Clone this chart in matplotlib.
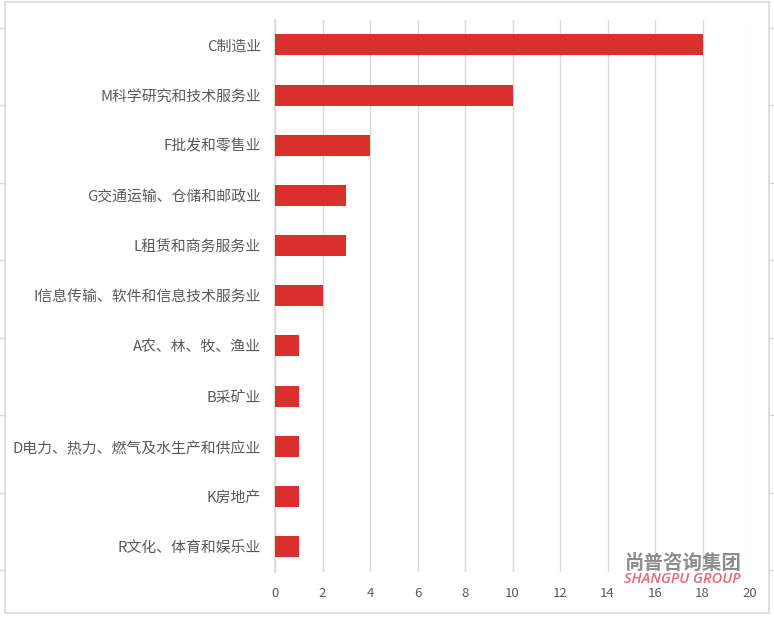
import matplotlib
matplotlib.use("Agg")
import matplotlib.pyplot as plt
from matplotlib.patches import Rectangle

plt.rcParams['font.family'] = ['Noto Sans CJK SC', 'DejaVu Sans']

# 行业分布（从上到下）
categories = ['C制造业', 'M科学研究和技术服务业', 'F批发和零售业', 'G交通运输、仓储和邮政业',
              'L租赁和商务服务业', 'I信息传输、软件和信息技术服务业', 'A农、林、牧、渔业',
              'B采矿业', 'D电力、热力、燃气及水生产和供应业', 'K房地产', 'R文化、体育和娱乐业']
counts = [18, 10, 4, 3, 3, 2, 1, 1, 1, 1, 1]
xticks = [0, 2, 4, 6, 8, 10, 12, 14, 16, 18, 20]

bar_color = '#D9302E'
text_color = '#595959'
grid_color = '#D9D9D9'

fig = plt.figure(figsize=(7.74, 6.2), dpi=100)
fig.patch.set_facecolor('white')

# spreadsheet-ish frame around the chart
for y in [0.955, 0.83, 0.705, 0.58, 0.455, 0.33, 0.205, 0.08]:
    fig.add_artist(plt.Line2D([0, 0.006], [y, y], color=grid_color, lw=1))
    fig.add_artist(plt.Line2D([0.994, 1], [y, y], color=grid_color, lw=1))
fig.add_artist(Rectangle((0.006, 0.011), 0.988, 0.985, transform=fig.transFigure,
                         fill=False, edgecolor=grid_color, lw=1.2))

ax = fig.add_axes([0.3553, 0.078, 0.6137, 0.89])
y = list(range(len(categories)))
ax.barh(y, counts, height=0.42, color=bar_color, zorder=3)
ax.set_ylim(len(categories) - 0.5, -0.5)
ax.set_xlim(0, 20)
ax.set_xticks(xticks)
ax.set_yticks(y)
ax.set_yticklabels(categories, fontsize=10.7, color=text_color)
ax.tick_params(axis='x', length=0, labelsize=9.5, labelcolor=text_color, pad=11)
ax.tick_params(axis='y', length=0, pad=10)
ax.grid(axis='x', color=grid_color, lw=1, zorder=0)
for s in ['top', 'right', 'bottom']:
    ax.spines[s].set_visible(False)
ax.spines['left'].set_color(grid_color)
ax.spines['left'].set_linewidth(1.2)

# watermark
fig.text(0.882, 0.092, '尚普咨询集团', fontsize=14, fontweight='bold',
         color='#8C8C8C', ha='center', va='center')
fig.text(0.882, 0.066, 'SHANGPU GROUP', fontsize=10.5, style='italic',
         fontweight='semibold', family=['Open Sans', 'DejaVu Sans'],
         color='#E06A78', ha='center', va='center')

fig.savefig('out.png', dpi=100, facecolor='white')
